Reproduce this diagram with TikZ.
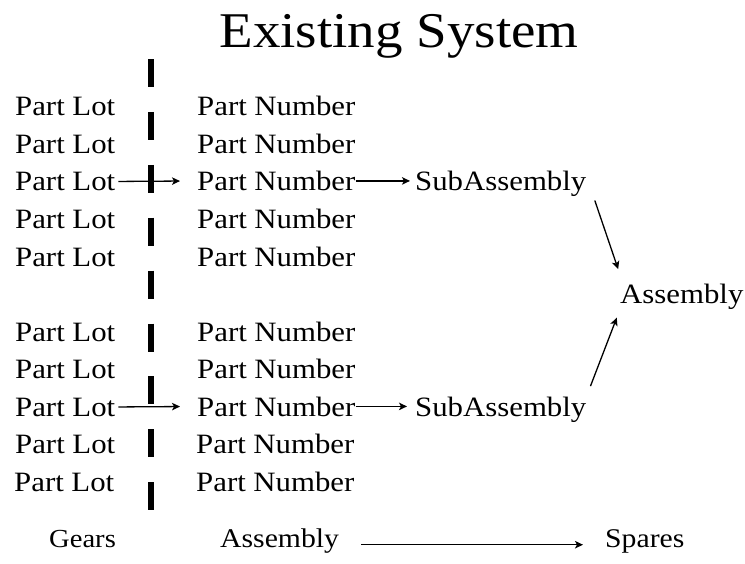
\documentclass[tikz,border=0pt]{standalone}
\usepackage{fontspec}
\setmainfont{Liberation Serif}[FakeStretch=1.1]
\usepackage{tikz}
\usetikzlibrary{arrows.meta}

\tikzset{
    lbl/.style={inner sep=0pt, anchor=base west, font=\fontsize{28}{30}\selectfont},
    flow/.style={-{Stealth[length=8pt, width=7.5pt, inset=2pt]}, line width=1.3pt},
}

\begin{document}
\begin{tikzpicture}[x=1pt, y=-1pt]
    \useasboundingbox (0,0) rectangle (745,563);
    \node[inner sep=0pt, anchor=base, font=\fontsize{50}{54}\selectfont] (title) at (399,47) {Existing System};
    % divider
    \draw[line width=6.5pt, dash pattern=on 28pt off 24.9pt] (151,59) -- (151,510);
    % left column
    \node[lbl] (lot1) at (15,115) {Part Lot};
    \node[lbl] (lot2) at (15,153) {Part Lot};
    \node[lbl] (lot3) at (15,190.5) {Part Lot};
    \node[lbl] (lot4) at (15,228.5) {Part Lot};
    \node[lbl] (lot5) at (15,266) {Part Lot};
    \node[lbl] (lot6) at (15,341) {Part Lot};
    \node[lbl] (lot7) at (15,378.5) {Part Lot};
    \node[lbl] (lot8) at (15,416) {Part Lot};
    \node[lbl] (lot9) at (15,453.5) {Part Lot};
    \node[lbl] (lot10) at (14,491) {Part Lot};
    % part numbers
    \node[lbl] (num1) at (197,115) {Part Number};
    \node[lbl] (num2) at (197,153) {Part Number};
    \node[lbl] (num3) at (197,190.5) {Part Number};
    \node[lbl] (num4) at (197,228.5) {Part Number};
    \node[lbl] (num5) at (197,266) {Part Number};
    \node[lbl] (num6) at (197,341) {Part Number};
    \node[lbl] (num7) at (197,378.5) {Part Number};
    \node[lbl] (num8) at (197,416) {Part Number};
    \node[lbl] (num9) at (196,453.5) {Part Number};
    \node[lbl] (num10) at (196,491) {Part Number};
    % assemblies
    \node[lbl] (sub1) at (415,190.5) {SubAssembly};
    \node[lbl] (sub2) at (415,416) {SubAssembly};
    \node[lbl] (asm) at (620,303) {Assembly};
    % bottom line
    \node[lbl, font=\fontsize{26}{28}\selectfont] (gears) at (49,547) {Gears};
    \node[lbl, font=\fontsize{27}{29}\selectfont] (asmb) at (220,547) {Assembly};
    \node[lbl, font=\fontsize{27}{29}\selectfont] (spares) at (605,547) {Spares};
    % arrows
    \draw[flow, shorten <=3pt, shorten >=17pt] (lot3.east) -- (num3.west);
    \draw[flow, shorten >=5pt] (num3.east) -- (num3.east -| sub1.west);
    \draw[flow, shorten <=3pt, shorten >=17pt] (lot8.east) -- (num8.west);
    \draw[flow, shorten >=8pt] (num8.east) -- (num8.east -| sub2.west);
    \draw[flow, shorten <=4pt, shorten >=15pt] ([xshift=7pt]sub1.south east) -- ([xshift=3pt]asm.north west);
    \draw[flow, shorten <=11pt, shorten >=9pt] (sub2.north east) -- (asm.south west);
    \draw[flow, shorten <=22pt, shorten >=22pt] (asmb.mid east) -- (spares.mid west);
\end{tikzpicture}
\end{document}
